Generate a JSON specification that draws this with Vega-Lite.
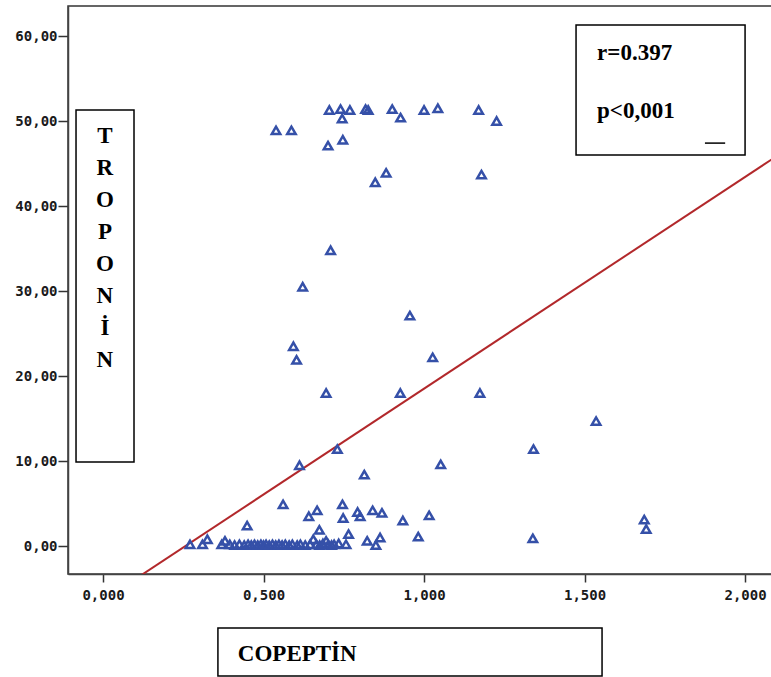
{
  "$schema": "https://vega.github.io/schema/vega-lite/v6.json",
  "width": 705,
  "height": 568,
  "autosize": {"type": "none"},
  "padding": {"left": 68, "top": 6, "right": 0, "bottom": 103},
  "background": "white",
  "config": {
    "view": {"stroke": "#333", "strokeWidth": 1.5},
    "axis": {
      "grid": false,
      "domainColor": "#444",
      "domainWidth": 1.5,
      "tickColor": "#333",
      "tickWidth": 1.5,
      "labelFont": "DejaVu Sans Mono",
      "labelFontWeight": "bold",
      "labelFontSize": 14,
      "labelColor": "#1a1a1a",
      "title": null
    }
  },
  "datasets": {
    "points": [
      {"copeptin": 0.705, "troponin": 51.3}, {"copeptin": 0.740, "troponin": 51.4}, {"copeptin": 0.769, "troponin": 51.3},
      {"copeptin": 0.745, "troponin": 50.3}, {"copeptin": 0.818, "troponin": 51.4}, {"copeptin": 0.826, "troponin": 51.3},
      {"copeptin": 0.901, "troponin": 51.4}, {"copeptin": 0.927, "troponin": 50.4}, {"copeptin": 1.0, "troponin": 51.3},
      {"copeptin": 1.043, "troponin": 51.5}, {"copeptin": 1.170, "troponin": 51.3}, {"copeptin": 1.226, "troponin": 50.0},
      {"copeptin": 0.539, "troponin": 48.9}, {"copeptin": 0.587, "troponin": 48.9}, {"copeptin": 0.701, "troponin": 47.1},
      {"copeptin": 0.747, "troponin": 47.8}, {"copeptin": 0.848, "troponin": 42.8}, {"copeptin": 0.882, "troponin": 43.9},
      {"copeptin": 1.179, "troponin": 43.7}, {"copeptin": 0.709, "troponin": 34.8}, {"copeptin": 0.622, "troponin": 30.5},
      {"copeptin": 0.956, "troponin": 27.1}, {"copeptin": 0.593, "troponin": 23.5}, {"copeptin": 0.603, "troponin": 21.9},
      {"copeptin": 1.027, "troponin": 22.2}, {"copeptin": 0.695, "troponin": 18.0}, {"copeptin": 0.926, "troponin": 18.0},
      {"copeptin": 1.174, "troponin": 18.0}, {"copeptin": 1.536, "troponin": 14.7}, {"copeptin": 0.730, "troponin": 11.4},
      {"copeptin": 1.341, "troponin": 11.4}, {"copeptin": 0.612, "troponin": 9.5}, {"copeptin": 1.052, "troponin": 9.6},
      {"copeptin": 0.814, "troponin": 8.4}, {"copeptin": 0.561, "troponin": 4.9}, {"copeptin": 0.746, "troponin": 4.9},
      {"copeptin": 0.641, "troponin": 3.5}, {"copeptin": 0.667, "troponin": 4.2}, {"copeptin": 0.748, "troponin": 3.3},
      {"copeptin": 0.793, "troponin": 4.0}, {"copeptin": 0.801, "troponin": 3.5}, {"copeptin": 0.840, "troponin": 4.2},
      {"copeptin": 0.869, "troponin": 3.9}, {"copeptin": 0.934, "troponin": 3.0}, {"copeptin": 1.016, "troponin": 3.6},
      {"copeptin": 1.686, "troponin": 3.1}, {"copeptin": 1.692, "troponin": 2.0}, {"copeptin": 0.674, "troponin": 1.9},
      {"copeptin": 0.765, "troponin": 1.4}, {"copeptin": 0.449, "troponin": 2.4}, {"copeptin": 0.823, "troponin": 0.6},
      {"copeptin": 0.863, "troponin": 1.0}, {"copeptin": 0.850, "troponin": 0.1}, {"copeptin": 0.982, "troponin": 1.1},
      {"copeptin": 1.339, "troponin": 0.9},
      {"copeptin": 0.271, "troponin": 0.2}, {"copeptin": 0.310, "troponin": 0.2}, {"copeptin": 0.325, "troponin": 0.8},
      {"copeptin": 0.370, "troponin": 0.2}, {"copeptin": 0.380, "troponin": 0.6}, {"copeptin": 0.395, "troponin": 0.2},
      {"copeptin": 0.410, "troponin": 0.1}, {"copeptin": 0.425, "troponin": 0.2}, {"copeptin": 0.440, "troponin": 0.1},
      {"copeptin": 0.452, "troponin": 0.2}, {"copeptin": 0.462, "troponin": 0.1}, {"copeptin": 0.472, "troponin": 0.2},
      {"copeptin": 0.482, "troponin": 0.1}, {"copeptin": 0.492, "troponin": 0.2}, {"copeptin": 0.500, "troponin": 0.1},
      {"copeptin": 0.508, "troponin": 0.2}, {"copeptin": 0.518, "troponin": 0.1}, {"copeptin": 0.528, "troponin": 0.2},
      {"copeptin": 0.538, "troponin": 0.1}, {"copeptin": 0.548, "troponin": 0.2}, {"copeptin": 0.558, "troponin": 0.1},
      {"copeptin": 0.568, "troponin": 0.2}, {"copeptin": 0.580, "troponin": 0.1}, {"copeptin": 0.590, "troponin": 0.2},
      {"copeptin": 0.605, "troponin": 0.1}, {"copeptin": 0.615, "troponin": 0.2}, {"copeptin": 0.630, "troponin": 0.1},
      {"copeptin": 0.645, "troponin": 0.2}, {"copeptin": 0.655, "troponin": 0.8}, {"copeptin": 0.665, "troponin": 0.2},
      {"copeptin": 0.675, "troponin": 0.1}, {"copeptin": 0.685, "troponin": 0.3}, {"copeptin": 0.695, "troponin": 0.6},
      {"copeptin": 0.702, "troponin": 0.2}, {"copeptin": 0.712, "troponin": 0.1}, {"copeptin": 0.720, "troponin": 0.2},
      {"copeptin": 0.734, "troponin": 0.3}, {"copeptin": 0.757, "troponin": 0.2}
    ],
    "fit": [
      {"copeptin": -0.11, "troponin": -9.14},
      {"copeptin": 2.2, "troponin": 48.4}
    ]
  },
  "layer": [
    {
      "data": {"name": "fit"},
      "mark": {"type": "line", "color": "#B2282B", "strokeWidth": 2, "clip": true},
      "encoding": {
        "x": {
          "field": "copeptin", "type": "quantitative",
          "scale": {"domain": [-0.109, 2.087], "nice": false, "zero": false},
          "axis": {
            "values": [0, 0.5, 1, 1.5, 2],
            "tickSize": 8,
            "labelPadding": 6,
            "labelExpr": "replace(format(datum.value, '.3f'), '.', ',')"
          }
        },
        "y": {
          "field": "troponin", "type": "quantitative",
          "scale": {"domain": [-3.294, 63.53], "nice": false, "zero": false},
          "axis": {
            "values": [0, 10, 20, 30, 40, 50, 60],
            "tickSize": 10,
            "labelPadding": 1,
            "labelExpr": "replace(format(datum.value, '.2f'), '.', ',')"
          }
        }
      }
    },
    {
      "data": {"name": "points"},
      "mark": {"type": "point", "shape": "triangle-up", "filled": false, "color": "#3550A8", "opacity": 1, "strokeWidth": 2.5, "size": 72},
      "encoding": {
        "x": {"field": "copeptin", "type": "quantitative"},
        "y": {"field": "troponin", "type": "quantitative"}
      }
    },
    {
      "data": {"values": [{}]},
      "mark": {"type": "rect", "fill": "white", "stroke": "black", "strokeWidth": 1.5},
      "encoding": {
        "x": {"datum": -0.084, "type": "quantitative"},
        "x2": {"datum": 0.0966},
        "y": {"datum": 51.3, "type": "quantitative"},
        "y2": {"datum": 9.88}
      }
    },
    {
      "data": {"values": [{}]},
      "mark": {"type": "rect", "fill": "white", "stroke": "black", "strokeWidth": 1.5},
      "encoding": {
        "x": {"datum": 1.4735, "type": "quantitative"},
        "x2": {"datum": 2.0},
        "y": {"datum": 61.3, "type": "quantitative"},
        "y2": {"datum": 46.0}
      }
    },
    {
      "data": {"values": [{}]},
      "mark": {"type": "rect", "fill": "white", "stroke": "black", "strokeWidth": 1.5, "clip": false},
      "encoding": {
        "x": {"datum": 0.358, "type": "quantitative"},
        "x2": {"datum": 1.5545},
        "y": {"datum": -9.65, "type": "quantitative"},
        "y2": {"datum": -15.3}
      }
    },
    {
      "data": {"values": [{}]},
      "mark": {"type": "rule", "color": "black", "strokeWidth": 1.5},
      "encoding": {
        "x": {"datum": 1.875, "type": "quantitative"},
        "x2": {"datum": 1.938},
        "y": {"datum": 47.4, "type": "quantitative"}
      }
    },
    {
      "data": {"values": [{}]},
      "mark": {"type": "text", "text": "r=0.397", "font": "Liberation Serif", "fontWeight": "bold", "fontSize": 23, "align": "left", "baseline": "alphabetic", "color": "black"},
      "encoding": {
        "x": {"datum": 1.539, "type": "quantitative"},
        "y": {"datum": 57.2, "type": "quantitative"}
      }
    },
    {
      "data": {"values": [{}]},
      "mark": {"type": "text", "text": "p<0,001", "font": "Liberation Serif", "fontWeight": "bold", "fontSize": 23, "align": "left", "baseline": "alphabetic", "color": "black"},
      "encoding": {
        "x": {"datum": 1.539, "type": "quantitative"},
        "y": {"datum": 50.35, "type": "quantitative"}
      }
    },
    {
      "data": {"values": [{}]},
      "mark": {"type": "text", "text": "COPEPTİN", "font": "Liberation Serif", "fontWeight": "bold", "fontSize": 23, "align": "left", "baseline": "middle", "color": "black"},
      "encoding": {
        "x": {"datum": 0.42, "type": "quantitative"},
        "y": {"datum": -12.7, "type": "quantitative"}
      }
    },
    {
      "data": {"values": [{}]},
      "mark": {"type": "text", "text": ["T", "R", "O", "P", "O", "N", "İ", "N"], "lineHeight": 32, "font": "Liberation Serif", "fontWeight": "bold", "fontSize": 23, "align": "center", "baseline": "alphabetic", "color": "black"},
      "encoding": {
        "x": {"datum": 0.006, "type": "quantitative"},
        "y": {"datum": 47.41, "type": "quantitative"}
      }
    }
  ]
}
